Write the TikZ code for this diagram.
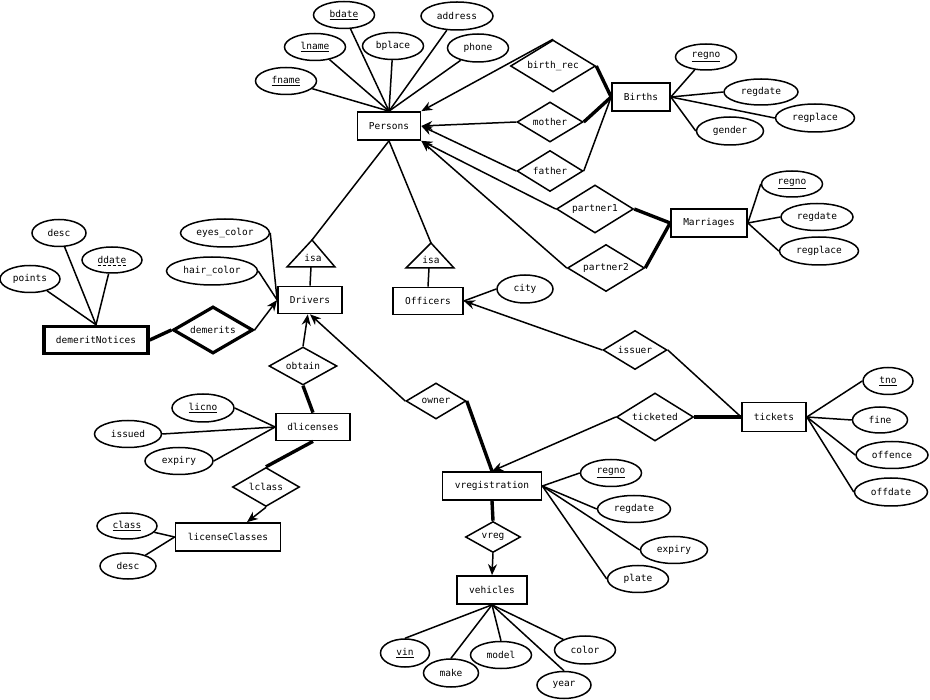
\documentclass[tikz,border=0pt]{standalone}
\usepackage{fontspec}
\setmainfont{DejaVu Sans Mono}
\usetikzlibrary{shapes.geometric,arrows.meta}
\tikzset{
  every node/.style={font=\fontsize{9.5}{11}\selectfont},
  ent/.style={draw, rectangle, line width=1.7pt, inner sep=0pt},
  went/.style={draw, rectangle, line width=3.5pt, inner sep=0pt},
  attr/.style={draw, ellipse, line width=1.5pt, inner sep=0pt},
  rel/.style={draw, diamond, aspect=2, inner sep=0pt, line width=1.5pt},
  wrel/.style={draw, diamond, aspect=2, inner sep=0pt, line width=3.2pt},
  ln/.style={line width=1.5pt},
  tk/.style={line width=3.4pt},
  arr/.style={line width=1.5pt, -{Stealth[length=11pt,width=9pt]}},
  isatri/.style={draw, line width=1.5pt, line join=miter},
}
\newcommand{\ul}[1]{\underline{#1}}
\begin{document}
\begin{tikzpicture}[x=1pt,y=-1pt]
\useasboundingbox (0,0) rectangle (930,700);
% ---------- entities
\node[ent, minimum width=63pt, minimum height=28pt] (Persons) at (389,126) {Persons};
\node[ent, minimum width=58pt, minimum height=28pt] (Births) at (641,97) {Births};
\node[ent, minimum width=76pt, minimum height=28pt] (Marriages) at (709,223) {Marriages};
\node[ent, minimum width=64pt, minimum height=27pt] (Drivers) at (310,300) {Drivers};
\node[ent, minimum width=70pt, minimum height=27pt] (Officers) at (428,301) {Officers};
\node[went, minimum width=104pt, minimum height=27pt] (demN) at (96,340) {demeritNotices};
\node[ent, minimum width=74pt, minimum height=27pt] (dlic) at (313,427) {dlicenses};
\node[ent, minimum width=105pt, minimum height=28pt] (lclasses) at (228,537) {licenseClasses};
\node[ent, minimum width=99pt, minimum height=28pt] (vreg) at (492,486) {vregistration};
\node[ent, minimum width=64pt, minimum height=29pt] (tickets) at (774,417) {tickets};
\node[ent, minimum width=70pt, minimum height=28pt] (vehicles) at (492,590) {vehicles};
% ---------- relationships
\node[rel, minimum width=85pt, minimum height=52pt] (birthrec) at (553,66) {birth\_rec};
\node[rel, minimum width=66pt, minimum height=40pt] (mother) at (550,122) {mother};
\node[rel, minimum width=66pt, minimum height=41pt] (father) at (550,171) {father};
\node[rel, minimum width=77pt, minimum height=48pt] (partner1) at (595,209) {partner1};
\node[rel, minimum width=77pt, minimum height=47pt] (partner2) at (606,268) {partner2};
\node[wrel, minimum width=80pt, minimum height=47pt] (demerits) at (213,330) {demerits};
\node[rel, minimum width=68pt, minimum height=38pt] (obtain) at (303,366) {obtain};
\node[rel, minimum width=67pt, minimum height=39pt] (lclass) at (266,487) {lclass};
\node[rel, minimum width=60pt, minimum height=36pt] (owner) at (436,401) {owner};
\node[rel, minimum width=77pt, minimum height=48pt] (ticketed) at (655,417) {ticketed};
\node[rel, minimum width=64pt, minimum height=39pt] (issuer) at (635,350) {issuer};
\node[rel, minimum width=55pt, minimum height=31pt] (vregrel) at (493,537) {vreg};
% ---------- isa triangles
\draw[isatri] (312,240) -- (335,267) -- (287,267) -- cycle;
\draw[isatri] (431,243) -- (454,268) -- (406,268) -- cycle;
\coordinate (isa1top) at (312,240);
\coordinate (isa1bot) at (311,267);
\coordinate (isa2top) at (431,243);
\coordinate (isa2bot) at (429,268);
\node (isa1) at (313,258) {isa};
\node (isa2) at (431,260) {isa};
% ---------- attributes
\node[attr, minimum width=61pt, minimum height=27pt] (fname) at (286,81) {\ul{fname}};
\node[attr, minimum width=61pt, minimum height=27pt] (lname) at (315,47) {\ul{lname}};
\node[attr, minimum width=61pt, minimum height=27pt] (bdate) at (344,15) {\ul{bdate}};
\node[attr, minimum width=61pt, minimum height=27pt] (bplace) at (393,46) {bplace};
\node[attr, minimum width=72pt, minimum height=28pt] (address) at (457,16) {address};
\node[attr, minimum width=61pt, minimum height=28pt] (phone) at (478,48) {phone};
\node[attr, minimum width=61pt, minimum height=26pt] (bregno) at (706,57) {\ul{regno}};
\node[attr, minimum width=74pt, minimum height=26pt] (bregdate) at (761,92) {regdate};
\node[attr, minimum width=79pt, minimum height=28pt] (bregplace) at (815,118) {regplace};
\node[attr, minimum width=67pt, minimum height=28pt] (gender) at (730,131) {gender};
\node[attr, minimum width=61pt, minimum height=26pt] (mregno) at (792,184) {\ul{regno}};
\node[attr, minimum width=72pt, minimum height=27pt] (mregdate) at (817,217) {regdate};
\node[attr, minimum width=79pt, minimum height=28pt] (mregplace) at (819,251) {regplace};
\node[attr, minimum width=89pt, minimum height=28pt] (eyes) at (225,233) {eyes\_color};
\node[attr, minimum width=91pt, minimum height=28pt] (hair) at (212,271) {hair\_color};
\node[attr, minimum width=56pt, minimum height=28pt] (city) at (525,289) {city};
\node[attr, minimum width=54pt, minimum height=27pt] (ddesc) at (59,233) {desc};
\node[attr, minimum width=60pt, minimum height=26pt] (ddate) at (112,260) {};
\node[inner sep=0pt] (ddatetxt) at (ddate) {ddate};
\node[attr, minimum width=60pt, minimum height=27pt] (points) at (30,279) {points};
\node[attr, minimum width=62pt, minimum height=28pt] (licno) at (203,408) {\ul{licno}};
\node[attr, minimum width=67pt, minimum height=27pt] (issued) at (128,434) {issued};
\node[attr, minimum width=68pt, minimum height=27pt] (lexpiry) at (179,461) {expiry};
\node[attr, minimum width=60pt, minimum height=26pt] (class) at (127,526) {\ul{class}};
\node[attr, minimum width=56pt, minimum height=26pt] (cdesc) at (128,566) {desc};
\node[attr, minimum width=50pt, minimum height=27pt] (tno) at (888,381) {\ul{tno}};
\node[attr, minimum width=55pt, minimum height=26pt] (fine) at (880,420) {fine};
\node[attr, minimum width=72pt, minimum height=27pt] (offence) at (892,455) {offence};
\node[attr, minimum width=73pt, minimum height=28pt] (offdate) at (891,492) {offdate};
\node[attr, minimum width=61pt, minimum height=27pt] (vregno) at (611,473) {\ul{regno}};
\node[attr, minimum width=73pt, minimum height=27pt] (vregdate) at (634,509) {regdate};
\node[attr, minimum width=67pt, minimum height=27pt] (vexpiry) at (674,550) {expiry};
\node[attr, minimum width=61pt, minimum height=27pt] (plate) at (638,579) {plate};
\node[attr, minimum width=49pt, minimum height=28pt] (vin) at (405,653) {\ul{vin}};
\node[attr, minimum width=55pt, minimum height=28pt] (make) at (451,673) {make};
\node[attr, minimum width=61pt, minimum height=27pt] (model) at (501,655) {model};
\node[attr, minimum width=54pt, minimum height=27pt] (year) at (564,685) {year};
\node[attr, minimum width=61pt, minimum height=28pt] (color) at (585,650) {color};
% dashed underline of ddate
\draw[line width=1pt, dash pattern=on 3pt off 2pt] ([yshift=-2.2pt]ddatetxt.base west) -- ([yshift=-2.2pt]ddatetxt.base east);
% ---------- attribute lines
\foreach \a in {fname,lname,bdate,bplace,address,phone} \draw[ln] (\a) -- (Persons.north);
\draw[ln] (bregno) -- (Births.east);
\foreach \a in {bregdate,bregplace,gender} \draw[ln] (\a.west) -- (Births.east);
\foreach \a in {mregno,mregdate,mregplace} \draw[ln] (\a.west) -- (Marriages.east);
\draw[ln] (eyes.east) -- (Drivers.west);
\draw[ln] (hair.east) -- (Drivers.west);
\draw[ln] (city.west) -- (Officers.east);
\foreach \a in {ddesc,ddate,points} \draw[ln] (\a) -- (demN.north);
\foreach \a in {licno,issued,lexpiry} \draw[ln] (\a.east) -- (dlic.west);
\foreach \a in {class,cdesc} \draw[ln] (\a) -- (lclasses.west);
\foreach \a in {tno,fine,offence,offdate} \draw[ln] (\a.west) -- (tickets.east);
\foreach \a in {vregno,vregdate,vexpiry,plate} \draw[ln] (\a.west) -- (vreg.east);
\foreach \a in {vin,make,model,year} \draw[ln] (\a.north) -- (vehicles.south);
\draw[ln] (color) -- (vehicles.south);
% ---------- isa lines
\draw[ln] (Persons.south) -- (isa1top);
\draw[ln] (Persons.south) -- (isa2top);
\draw[ln] (isa1bot) -- (Drivers.north);
\draw[ln] (isa2bot) -- (Officers.north);
% ---------- relationship lines
\draw[arr] (birthrec.north) -- (Persons.north east);
\draw[arr] (mother.west) -- (Persons.east);
\draw[arr] (father.west) -- (Persons.east);
\draw[arr] (partner1.west) -- (Persons.south east);
\draw[arr] (partner2.west) -- (Persons.south east);
\draw[tk] (birthrec.east) -- (Births.west);
\draw[tk] (mother.east) -- (Births.west);
\draw[ln] (father.east) -- (Births.west);
\draw[tk] (partner1.east) -- (Marriages.west);
\draw[tk] (partner2.east) -- (Marriages.west);
\draw[tk] (demN.east) -- (demerits.west);
\draw[arr] (demerits.east) -- (Drivers.west);
\draw[arr] (obtain.north) -- (Drivers);
\draw[tk] (obtain.south) -- (dlic.north);
\draw[tk] (dlic.south) -- (lclass.north);
\draw[arr] (lclass.south) -- (lclasses);
\draw[arr] (owner.west) -- (Drivers.south);
\draw[tk] (owner.east) -- (vreg.north);
\draw[arr] (ticketed.west) -- (vreg.north);
\draw[tk] (ticketed.east) -- (tickets.west);
\draw[arr] (issuer.west) -- (Officers.east);
\draw[ln] (issuer.east) -- (tickets.west);
\draw[tk] (vreg.south) -- (vregrel.north);
\draw[arr] (vregrel.south) -- (vehicles.north);
\end{tikzpicture}
\end{document}
